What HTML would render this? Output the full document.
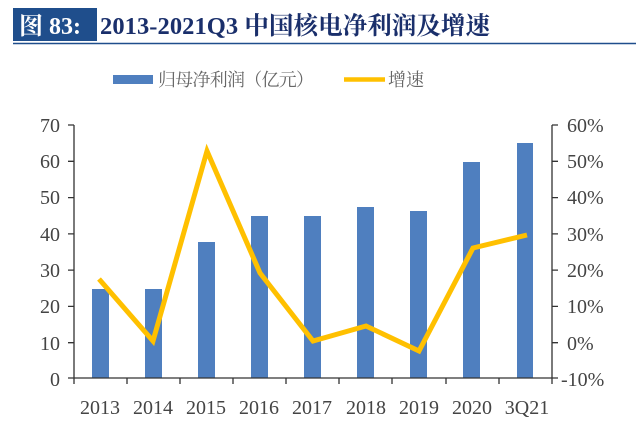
<!DOCTYPE html>
<html><head><meta charset="utf-8"><style>
body{margin:0;background:#fff;width:640px;height:433px;overflow:hidden}
svg text{font-family:"Liberation Serif","Noto Serif CJK SC",serif}
</style></head><body>
<svg width="640" height="433" viewBox="0 0 640 433" xmlns="http://www.w3.org/2000/svg">
<rect x="13" y="8" width="84" height="33" fill="#1f4e8c"/>
<text x="19" y="34" font-size="24" font-weight="bold" fill="#fff">图 83:</text>
<text x="100" y="34" font-size="24.5" font-weight="bold" fill="#1a2f6b" textLength="390">2013-2021Q3 中国核电净利润及增速</text>
<line x1="13" y1="43.5" x2="636" y2="43.5" stroke="#1f4e8c" stroke-width="1.5"/>
<rect x="113" y="75" width="40" height="9" fill="#4f7fbf"/>
<text x="158" y="86" font-size="18" fill="#666" font-family="'Noto Sans CJK SC',sans-serif" textLength="156">归母净利润（亿元）</text>
<line x1="344" y1="79.5" x2="385" y2="79.5" stroke="#ffc000" stroke-width="4.5"/>
<text x="388" y="86" font-size="18" fill="#666" font-family="'Noto Sans CJK SC',sans-serif">增速</text>
<g fill="#4f7fbf">
<rect x="92" y="289" width="17" height="89"/>
<rect x="145" y="289" width="17" height="89"/>
<rect x="198" y="242" width="17" height="136"/>
<rect x="251" y="216" width="17" height="162"/>
<rect x="304" y="216" width="17" height="162"/>
<rect x="357" y="207" width="17" height="171"/>
<rect x="410" y="211" width="17" height="167"/>
<rect x="463" y="162" width="17" height="216"/>
<rect x="517" y="143" width="16" height="235"/>
</g>
<polyline points="99,279 153,341 207,151 260,273 313,341 366,326 419,351 473,248 527,235" fill="none" stroke="#ffc000" stroke-width="5" stroke-linejoin="miter"/>
<g stroke="#333" stroke-width="1.3" fill="none">
<line x1="74" y1="125" x2="74" y2="378"/>
<line x1="552" y1="125" x2="552" y2="378"/>
<line x1="74" y1="378" x2="552" y2="378"/>
<path d="M68 125H74M68 161.3H74M68 197.6H74M68 233.9H74M68 270.1H74M68 306.4H74M68 342.7H74M68 378H74"/>
<path d="M552 125H558M552 161.3H558M552 197.6H558M552 233.9H558M552 270.1H558M552 306.4H558M552 342.7H558M552 378H558"/>
<path d="M74 378V384M127 378V384M180 378V384M233 378V384M286 378V384M339 378V384M392 378V384M446 378V384M499 378V384M552 378V384"/>
</g>
<g font-size="20" fill="#444" text-anchor="end">
<text x="60" y="132">70</text><text x="60" y="168">60</text><text x="60" y="204">50</text><text x="60" y="241">40</text><text x="60" y="277">30</text><text x="60" y="313">20</text><text x="60" y="350">10</text><text x="60" y="386">0</text>
</g>
<g font-size="20" fill="#444">
<text x="567" y="132">60%</text><text x="567" y="168">50%</text><text x="567" y="204">40%</text><text x="567" y="241">30%</text><text x="567" y="277">20%</text><text x="567" y="313">10%</text><text x="567" y="350">0%</text><text x="561" y="386">-10%</text>
</g>
<g font-size="20" fill="#444" text-anchor="middle">
<text x="100" y="414">2013</text><text x="153" y="414">2014</text><text x="206" y="414">2015</text><text x="259" y="414">2016</text><text x="312" y="414">2017</text><text x="366" y="414">2018</text><text x="419" y="414">2019</text><text x="472" y="414">2020</text><text x="527" y="414">3Q21</text>
</g>
</svg>
</body></html>
